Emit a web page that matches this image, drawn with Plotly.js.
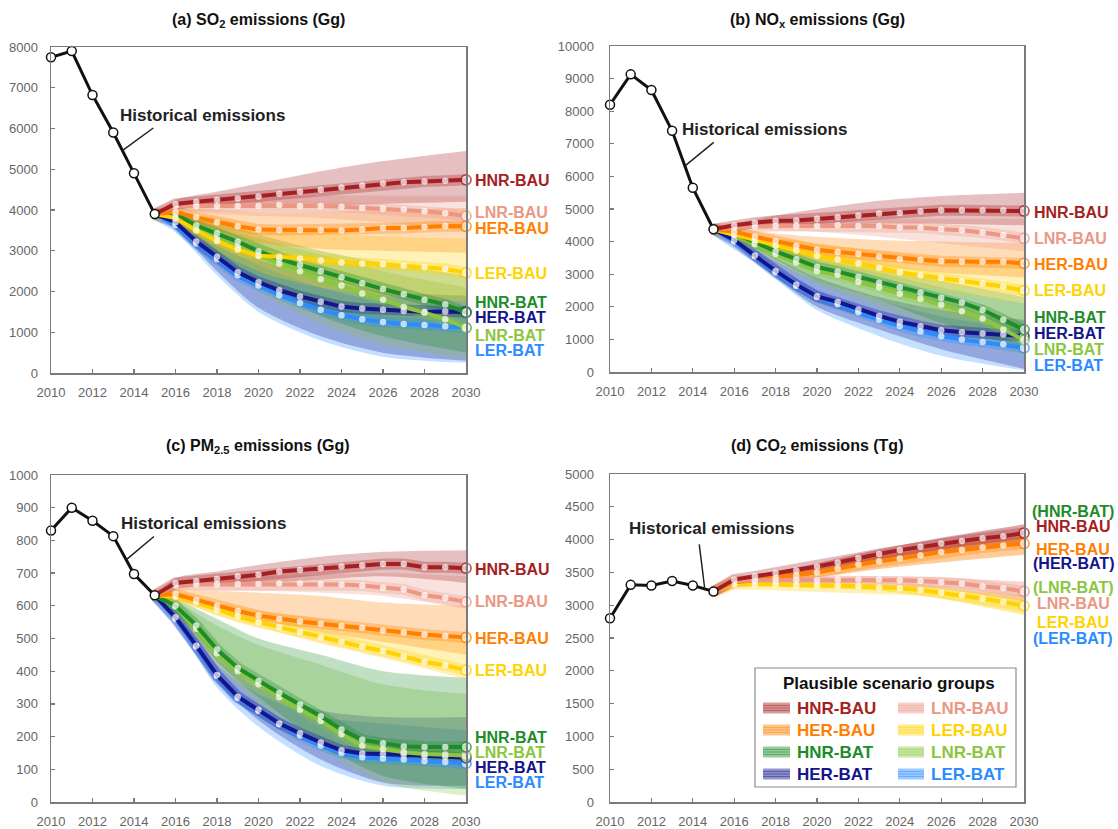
<!DOCTYPE html>
<html><head><meta charset="utf-8">
<script src="https://cdn.plot.ly/plotly-3.0.1.min.js"></script>
<style>html,body{margin:0;padding:0;background:#fff}#chart{width:1118px;height:829px}</style>
</head><body><div id="chart"></div>
<script>
// ---------------- data ----------------
const histYears = [2010, 2011, 2012, 2013, 2014, 2015];
const projYears = [2015, 2016, 2017, 2018, 2019, 2020, 2021, 2022, 2023, 2024, 2025, 2026, 2027, 2028, 2029, 2030];
const bandYears = [2015, 2016, 2018, 2020, 2023, 2026, 2030];
const scenarioNames = ['HNR-BAU', 'LNR-BAU', 'HER-BAU', 'LER-BAU', 'HNR-BAT', 'LNR-BAT', 'HER-BAT', 'LER-BAT'];
const scenarioColors = ['#a51e22', '#eb9784', '#ff8000', '#ffd200', '#1e8c28', '#8cc63f', '#14148c', '#2b8cff'];
const xTickYears = [2010, 2012, 2014, 2016, 2018, 2020, 2022, 2024, 2026, 2028, 2030];

// (a) SO2
const so2Hist = [7750, 7900, 6820, 5900, 4900, 3900];
const so2_HNR_BAU = [3900, 4150, 4200, 4250, 4280, 4330, 4400, 4450, 4500, 4550, 4600, 4650, 4680, 4700, 4720, 4740];
const so2_LNR_BAU = [3900, 4100, 4100, 4100, 4100, 4100, 4120, 4100, 4100, 4080, 4050, 4030, 4010, 3970, 3920, 3850];
const so2_HER_BAU = [3900, 3950, 3820, 3700, 3600, 3520, 3510, 3510, 3510, 3500, 3520, 3560, 3560, 3580, 3610, 3600];
const so2_LER_BAU = [3900, 3800, 3500, 3240, 3030, 2880, 2850, 2810, 2760, 2710, 2690, 2670, 2630, 2600, 2550, 2460];
const so2_HNR_BAT = [3900, 3900, 3620, 3430, 3220, 2990, 2800, 2650, 2500, 2350, 2200, 2060, 1930, 1800, 1680, 1480];
const so2_LNR_BAT = [3900, 3850, 3550, 3340, 3100, 2890, 2680, 2500, 2300, 2150, 1950, 1800, 1620, 1480, 1320, 1110];
const so2_HER_BAT = [3900, 3700, 3230, 2850, 2470, 2230, 2030, 1880, 1750, 1630, 1580, 1550, 1520, 1500, 1510, 1500];
const so2_LER_BAT = [3900, 3630, 3180, 2790, 2400, 2150, 1910, 1720, 1550, 1420, 1320, 1250, 1200, 1180, 1150, 1110];
const so2Hi = [
  [3900, 4250, 4450, 4650, 4950, 5200, 5450],
  [3900, 4150, 4250, 4300, 4350, 4350, 4350],
  [3900, 4050, 4000, 3950, 3950, 4000, 4050],
  [3900, 3950, 3800, 3600, 3450, 3350, 3300],
  [3900, 3950, 3700, 3400, 3000, 2700, 2400],
  [3900, 3900, 3600, 3300, 2900, 2500, 2100],
  [3900, 3800, 3300, 2800, 2300, 2000, 1900],
  [3900, 3750, 3150, 2650, 2100, 1750, 1600]];
const so2Lo = [
  [3900, 4050, 4050, 4050, 4100, 4150, 4200],
  [3900, 4000, 3900, 3850, 3800, 3700, 3500],
  [3900, 3850, 3500, 3200, 3050, 3000, 2950],
  [3900, 3700, 3000, 2500, 2100, 1900, 1750],
  [3900, 3700, 2900, 2200, 1400, 900, 500],
  [3900, 3650, 2800, 2000, 1200, 700, 350],
  [3900, 3550, 2500, 1600, 900, 500, 300],
  [3900, 3500, 2400, 1500, 800, 400, 250]];

// (b) NOx
const noxHist = [8200, 9130, 8650, 7400, 5650, 4380];
const nox_HNR_BAU = [4380, 4500, 4580, 4640, 4650, 4700, 4750, 4800, 4860, 4880, 4930, 4960, 4960, 4960, 4960, 4940];
const nox_LNR_BAU = [4380, 4430, 4460, 4480, 4480, 4480, 4500, 4480, 4480, 4430, 4430, 4380, 4350, 4280, 4200, 4100];
const nox_HER_BAU = [4380, 4300, 4150, 4020, 3870, 3750, 3680, 3620, 3540, 3470, 3440, 3400, 3380, 3380, 3380, 3330];
const nox_LER_BAU = [4380, 4220, 4050, 3880, 3720, 3560, 3450, 3330, 3200, 3050, 2970, 2880, 2790, 2720, 2620, 2500];
const nox_HNR_BAT = [4380, 4250, 3980, 3700, 3460, 3220, 3080, 2920, 2740, 2600, 2440, 2280, 2130, 1900, 1600, 1300];
const nox_LNR_BAT = [4380, 4200, 3920, 3620, 3360, 3100, 2980, 2760, 2590, 2400, 2250, 2060, 1860, 1640, 1300, 980];
const nox_HER_BAT = [4380, 4050, 3570, 3100, 2680, 2320, 2150, 1920, 1720, 1540, 1400, 1280, 1220, 1180, 1150, 1100];
const nox_LER_BAT = [4380, 4000, 3550, 3050, 2640, 2300, 2080, 1830, 1600, 1410, 1240, 1100, 1000, 920, 850, 740];
const noxHi = [
  [4380, 4550, 4800, 5000, 5250, 5400, 5500],
  [4380, 4500, 4600, 4650, 4700, 4700, 4700],
  [4380, 4400, 4250, 4150, 4050, 4000, 3950],
  [4380, 4300, 4100, 3950, 3700, 3500, 3300],
  [4380, 4300, 4000, 3600, 3200, 2800, 2300],
  [4380, 4250, 3900, 3500, 3050, 2600, 2100],
  [4380, 4150, 3500, 2900, 2300, 1900, 1600],
  [4380, 4100, 3400, 2800, 2200, 1700, 1300]];
const noxLo = [
  [4380, 4450, 4500, 4500, 4550, 4550, 4500],
  [4380, 4350, 4350, 4300, 4150, 3950, 3700],
  [4380, 4200, 3800, 3500, 3250, 3050, 2900],
  [4380, 4100, 3650, 3350, 2900, 2500, 2100],
  [4380, 4150, 3450, 2800, 2200, 1500, 700],
  [4380, 4100, 3350, 2700, 2000, 1300, 500],
  [4380, 3950, 2900, 2000, 1300, 700, 100],
  [4380, 3900, 2850, 1900, 1100, 500, 50]];

// (c) PM2.5
const pmHist = [830, 900, 860, 813, 697, 632];
const pm_HNR_BAU = [632, 670, 676, 682, 690, 695, 705, 710, 715, 720, 723, 728, 728, 718, 718, 715];
const pm_LNR_BAU = [632, 662, 665, 665, 667, 667, 668, 668, 667, 665, 662, 655, 650, 632, 624, 612];
const pm_HER_BAU = [632, 635, 618, 600, 584, 570, 560, 552, 545, 538, 533, 524, 518, 512, 508, 503];
const pm_LER_BAU = [632, 628, 612, 588, 567, 550, 535, 520, 503, 490, 475, 462, 445, 428, 418, 403];
const pm_HNR_BAT = [632, 600, 540, 466, 410, 370, 333, 298, 262, 222, 190, 180, 170, 168, 168, 168];
const pm_LNR_BAT = [632, 598, 530, 455, 400, 360, 320, 282, 248, 207, 172, 162, 152, 147, 145, 142];
const pm_HER_BAT = [632, 565, 478, 388, 322, 282, 240, 210, 182, 158, 148, 147, 145, 140, 138, 135];
const pm_LER_BAT = [632, 560, 475, 385, 318, 278, 238, 203, 173, 150, 137, 133, 130, 125, 122, 118];
const pmHi = [
  [632, 685, 705, 725, 750, 765, 770],
  [632, 670, 685, 690, 695, 700, 690],
  [632, 650, 645, 640, 630, 610, 600],
  [632, 640, 610, 585, 560, 530, 490],
  [632, 620, 560, 500, 450, 400, 380],
  [632, 615, 540, 480, 420, 360, 330],
  [632, 590, 440, 350, 280, 260, 260],
  [632, 585, 420, 330, 260, 240, 220]];
const pmLo = [
  [632, 660, 665, 670, 680, 690, 670],
  [632, 650, 645, 645, 640, 630, 590],
  [632, 625, 590, 560, 520, 490, 450],
  [632, 620, 570, 535, 485, 440, 375],
  [632, 590, 430, 320, 180, 80, 40],
  [632, 585, 420, 300, 160, 60, 20],
  [632, 560, 370, 250, 130, 60, 50],
  [632, 550, 350, 230, 110, 50, 40]];

// (d) CO2 (BAT groups coincide with BAU groups)
const co2Hist = [2800, 3310, 3300, 3370, 3300, 3210];
const co2_HNR_BAU = [3210, 3390, 3440, 3490, 3530, 3590, 3650, 3720, 3780, 3840, 3890, 3940, 3980, 4020, 4050, 4100];
const co2_LNR_BAU = [3210, 3370, 3380, 3380, 3380, 3380, 3390, 3390, 3390, 3380, 3370, 3350, 3330, 3290, 3260, 3210];
const co2_HER_BAU = [3210, 3350, 3380, 3420, 3450, 3500, 3560, 3620, 3670, 3710, 3760, 3810, 3840, 3880, 3910, 3940];
const co2_LER_BAU = [3210, 3320, 3320, 3310, 3300, 3300, 3300, 3290, 3270, 3260, 3230, 3190, 3150, 3100, 3050, 2990];
const co2Hi = [
  [3210, 3400, 3510, 3640, 3850, 4030, 4230],
  [3210, 3390, 3420, 3430, 3440, 3420, 3360],
  [3210, 3370, 3460, 3550, 3740, 3900, 4050],
  [3210, 3340, 3350, 3340, 3320, 3260, 3150],
  null, null, null, null];
const co2Lo = [
  [3210, 3370, 3450, 3540, 3700, 3830, 3950],
  [3210, 3350, 3350, 3340, 3330, 3250, 3060],
  [3210, 3330, 3380, 3420, 3550, 3650, 3770],
  [3210, 3300, 3280, 3260, 3220, 3100, 2850],
  null, null, null, null];

// ---------------- layout helpers ----------------
const W = 1118, H = 829;
const px = v => v / W, py = v => 1 - v / H;
const FONT = 'Liberation Sans, Arial, Helvetica, sans-serif';
function rgba(hex, a) {
  const n = parseInt(hex.slice(1), 16);
  return `rgba(${(n >> 16) & 255},${(n >> 8) & 255},${n & 255},${a})`;
}

const traces = [];
const drawOrder = [7, 6, 5, 4, 3, 2, 1, 0];

function addPanel(ax, hist, centrals, his, los, bandAlpha) {
  const xa = 'x' + ax, ya = 'y' + ax;
  drawOrder.forEach(i => {
    if (!his[i]) return;
    traces.push({x: bandYears, y: his[i], xaxis: xa, yaxis: ya, mode: 'lines', type: 'scatter',
      line: {width: 0, shape: 'spline', smoothing: 0.8, color: scenarioColors[i]}, hoverinfo: 'skip', showlegend: false});
    traces.push({x: bandYears, y: los[i], xaxis: xa, yaxis: ya, mode: 'lines', type: 'scatter', fill: 'tonexty',
      fillcolor: rgba(scenarioColors[i], bandAlpha),
      line: {width: 0, shape: 'spline', smoothing: 0.8, color: scenarioColors[i]}, hoverinfo: 'skip', showlegend: false});
  });
  // dense core of each bundle (halo around the central path)
  drawOrder.forEach(i => {
    const c = centrals[i];
    if (!c) return;
    traces.push({x: projYears, y: c, xaxis: xa, yaxis: ya, mode: 'lines', type: 'scatter',
      line: {width: 11, color: rgba(scenarioColors[i], 0.3)}, hoverinfo: 'skip', showlegend: false});
  });
  drawOrder.forEach(i => {
    const c = centrals[i];
    if (!c) return;
    const last = c.length - 1;
    traces.push({x: projYears, y: c, xaxis: xa, yaxis: ya, mode: 'lines+markers', type: 'scatter', cliponaxis: false,
      line: {width: 4, color: scenarioColors[i]},
      marker: {color: '#ffffff', size: c.map((v, k) => k === 0 ? 0 : (k === last ? 10 : 6.5)),
        line: {color: scenarioColors[i], width: c.map((v, k) => k === last ? 1.8 : 0)}},
      hoverinfo: 'skip', showlegend: false});
  });
  traces.push({x: histYears, y: hist, xaxis: xa, yaxis: ya, mode: 'lines+markers', type: 'scatter', cliponaxis: false,
    line: {width: 3, color: '#111'}, marker: {color: '#fff', size: 9, line: {color: '#111', width: 1.5}},
    hoverinfo: 'skip', showlegend: false});
}

addPanel('', so2Hist, [so2_HNR_BAU, so2_LNR_BAU, so2_HER_BAU, so2_LER_BAU, so2_HNR_BAT, so2_LNR_BAT, so2_HER_BAT, so2_LER_BAT], so2Hi, so2Lo, 0.28);
addPanel('2', noxHist, [nox_HNR_BAU, nox_LNR_BAU, nox_HER_BAU, nox_LER_BAU, nox_HNR_BAT, nox_LNR_BAT, nox_HER_BAT, nox_LER_BAT], noxHi, noxLo, 0.28);
addPanel('3', pmHist, [pm_HNR_BAU, pm_LNR_BAU, pm_HER_BAU, pm_LER_BAU, pm_HNR_BAT, pm_LNR_BAT, pm_HER_BAT, pm_LER_BAT], pmHi, pmLo, 0.28);
addPanel('4', co2Hist, [co2_HNR_BAU, co2_LNR_BAU, co2_HER_BAU, co2_LER_BAU, null, null, null, null], co2Hi, co2Lo, 0.4);

function xAxis(domain, anchor) {
  return {domain, anchor, range: [2010, 2030], tickvals: xTickYears, showline: true, mirror: true,
    linecolor: '#7a7a7a', linewidth: 1.5, ticks: 'inside', ticklen: 4, tickcolor: '#7a7a7a', tickwidth: 1.2,
    showgrid: false, zeroline: false, automargin: false, ticklabelstandoff: 7,
    tickfont: {family: FONT, size: 13, color: '#666'}};
}
function yAxis(domain, anchor, range, dtick, standoff) {
  return {domain, anchor, range, dtick, tick0: 0, tickformat: 'd', showline: true, mirror: true,
    linecolor: '#7a7a7a', linewidth: 1.5, ticks: 'inside', ticklen: 4, tickcolor: '#7a7a7a', tickwidth: 1.2,
    showgrid: false, zeroline: false, automargin: false, ticklabelstandoff: standoff,
    tickfont: {family: FONT, size: 13, color: '#666'}};
}

const dxL = [px(51), px(466)], dxR = [px(610), px(1024)];

const annotations = [];
const shapes = [];

// titles
[['<b>(a) SO<sub>2</sub> emissions (Gg)</b>', 258, 20], ['<b>(b) NO<sub>x</sub> emissions (Gg)</b>', 817, 20],
 ['<b>(c) PM<sub>2.5</sub> emissions (Gg)</b>', 258, 446], ['<b>(d) CO<sub>2</sub> emissions (Tg)</b>', 817, 446]]
.forEach(([t, x, y]) => annotations.push({text: t, xref: 'paper', yref: 'paper', x: px(x), y: py(y),
  xanchor: 'center', yanchor: 'middle', showarrow: false, font: {family: FONT, size: 16, color: '#111'}}));

// historical emissions labels + leader lines
[['x', 'y', 2017.32, 6331, 2014.93, 6012, 2013.47, 5470],
 ['x2', 'y2', 2017.44, 7454, 2015.01, 7046, 2013.64, 6330],
 ['x3', 'y3', 2017.37, 853, 2014.96, 812, 2013.65, 742],
 ['x4', 'y4', 2014.92, 4168, 2014.31, 3926, 2014.57, 3270]]
.forEach(([xr, yr, tx, ty, x0, y0, x1, y1]) => {
  annotations.push({text: '<b>Historical emissions</b>', xref: xr, yref: yr, x: tx, y: ty, xanchor: 'center',
    yanchor: 'middle', showarrow: false, font: {family: FONT, size: 17, color: '#222'}});
  shapes.push({type: 'line', xref: xr, yref: yr, x0, y0, x1, y1, line: {color: '#222', width: 1.5}});
});

// right-hand scenario labels (positions, in scenario order)
const labelPosA = [4719, 3934, 3551, 2446, 1730, 915, 1372, 564];
const labelPosB = [4887, 4100, 3303, 2515, 1660, 695, 1180, 214];
const labelPosC = [711, 612, 500, 401, 196, 150, 107, 61];
[['x', 'y', labelPosA, 7], ['x2', 'y2', labelPosB, 8], ['x3', 'y3', labelPosC, 7]].forEach(([xr, yr, pos, sh]) => {
  scenarioNames.forEach((n, i) => annotations.push({text: '<b>' + n + '</b>', xref: xr, yref: yr, x: 2030, y: pos[i],
    xshift: sh, xanchor: 'left', yanchor: 'middle', showarrow: false,
    font: {family: FONT, size: 16, color: scenarioColors[i]}}));
});
const labelsD = [['(HNR-BAT)', 4, 4425], ['HNR-BAU', 0, 4197], ['HER-BAU', 2, 3848], ['(HER-BAT)', 6, 3642],
  ['(LNR-BAT)', 5, 3270], ['LNR-BAU', 1, 3030], ['LER-BAU', 3, 2729], ['(LER-BAT)', 7, 2485]];
labelsD.forEach(([t, i, y]) => annotations.push({text: '<b>' + t + '</b>', xref: 'paper', yref: 'y4', x: px(1073), y,
  xanchor: 'center', yanchor: 'middle', showarrow: false, font: {family: FONT, size: 16, color: scenarioColors[i]}}));

// legend box in panel (d)
shapes.push({type: 'rect', xref: 'paper', yref: 'paper', x0: px(755), x1: px(1016), y0: py(787), y1: py(668),
  fillcolor: '#fff', line: {color: '#8a8a8a', width: 1.2}, layer: 'above'});
annotations.push({text: '<b>Plausible scenario groups</b>', xref: 'paper', yref: 'paper', x: px(889), y: py(683),
  xanchor: 'center', yanchor: 'middle', showarrow: false, font: {family: FONT, size: 17, color: '#111'}});
const legendCols = [[0, 2, 4, 6], [1, 3, 5, 7]];
const colSw = [[763, 790, 795], [898, 924, 929]];
const rowY = [708, 730, 752, 774];
legendCols.forEach((col, c) => col.forEach((i, r) => {
  const y = rowY[r];
  shapes.push({type: 'rect', xref: 'paper', yref: 'paper', x0: px(colSw[c][0]), x1: px(colSw[c][1]),
    y0: py(y + 5.5), y1: py(y - 5.5), fillcolor: rgba(scenarioColors[i], 0.45), line: {width: 0}, layer: 'above'});
  [-2.5, 0, 2.5].forEach(d => shapes.push({type: 'line', xref: 'paper', yref: 'paper', x0: px(colSw[c][0]), x1: px(colSw[c][1]),
    y0: py(y + d), y1: py(y + d), line: {color: rgba(scenarioColors[i], 0.45), width: 1.2}, layer: 'above'}));
  annotations.push({text: '<b>' + scenarioNames[i] + '</b>', xref: 'paper', yref: 'paper', x: px(colSw[c][2]), y: py(y),
    xanchor: 'left', yanchor: 'middle', showarrow: false, font: {family: FONT, size: 17, color: scenarioColors[i]}});
}));

const layout = {
  width: W, height: H, margin: {l: 0, r: 0, t: 0, b: 0}, paper_bgcolor: '#fff', plot_bgcolor: '#fff',
  showlegend: false, font: {family: FONT},
  xaxis: xAxis(dxL, 'y'), yaxis: yAxis([py(373), py(47)], 'x', [0, 8000], 1000, 9),
  xaxis2: xAxis(dxR, 'y2'), yaxis2: yAxis([py(372), py(46)], 'x2', [0, 10000], 1000, 12),
  xaxis3: xAxis(dxL, 'y3'), yaxis3: yAxis([py(802), py(475)], 'x3', [0, 1000], 100, 9),
  xaxis4: xAxis(dxR, 'y4'), yaxis4: yAxis([py(802), py(474)], 'x4', [0, 5000], 500, 12),
  annotations, shapes
};

Plotly.newPlot('chart', traces, layout, {staticPlot: true, displayModeBar: false});
</script>
</body></html>
